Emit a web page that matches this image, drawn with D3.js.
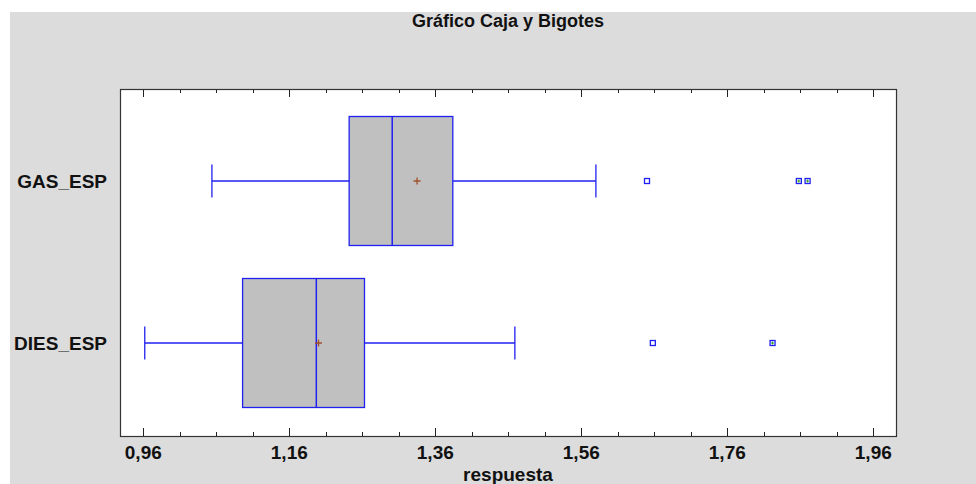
<!DOCTYPE html>
<html>
<head>
<meta charset="utf-8">
<script src="https://cdn.jsdelivr.net/npm/d3@7"></script>
<style>
  body { margin: 0; background: #fff; }
  svg text { font-family: "Liberation Sans", Arial, sans-serif; font-weight: bold; fill: #111; }
</style>
</head>
<body>
<div id="chart"></div>
<script>
// data
var groups = ['GAS_ESP', 'DIES_ESP'];
var whiskerLow = [1.054, 0.962];
var q1 = [1.242, 1.096];
var median = [1.301, 1.197];
var q3 = [1.384, 1.263];
var whiskerHigh = [1.580, 1.469];
var means = [1.335, 1.200];
var outliers = [[1.650], [1.658]];
var farOutliers = [[1.858, 1.870], [1.822]];
var majorTicks = [0.96, 1.16, 1.36, 1.56, 1.76, 1.96];
var minorStep = 0.05;

var width = 976,
	height = 484,
	plot = { left: 120, right: 896, top: 89, bottom: 436 };

var svg = d3.select('#chart').append('svg').attr('width', width).attr('height', height);

svg.append('rect')
	.attr('x', 10).attr('y', 12)
	.attr('width', width - 10).attr('height', height - 12)
	.style('fill', '#dcdcdc');

svg.append('rect')
	.attr('x', plot.left).attr('y', plot.top)
	.attr('width', plot.right - plot.left).attr('height', plot.bottom - plot.top)
	.style('fill', '#fff');

var x = d3.scaleLinear()
	.domain([0.96 - 23.3 / 730, 1.96 + 22.7 / 730])
	.range([plot.left, plot.right]);

var y = d3.scalePoint()
	.domain(groups)
	.range([181, 343]);

var boxH = 129, capH = 33;

var fmt = d3.formatLocale({ decimal: ',', thousands: '.', grouping: [3], currency: ['', ''] }).format('.2f');

var minorTicks = d3.range(0, 41).map(function (i) { return +(0.96 + i * minorStep).toFixed(2); })
	.filter(function (v) { return v <= x.domain()[1]; });

function isMajor(d) { return majorTicks.indexOf(d) >= 0; }

// bottom axis (ticks inside)
var bottomAxis = svg.append('g').attr('transform', 'translate(0,' + plot.bottom + ')');
bottomAxis.selectAll('line').data(minorTicks).enter().append('line')
	.attr('x1', function (d) { return Math.round(x(d)) + 0.5; })
	.attr('x2', function (d) { return Math.round(x(d)) + 0.5; })
	.attr('y1', 0)
	.attr('y2', function (d) { return isMajor(d) ? -8 : -4; })
	.style('stroke', '#222');
bottomAxis.selectAll('text').data(majorTicks).enter().append('text')
	.attr('x', function (d) { return x(d); })
	.attr('y', 23)
	.attr('text-anchor', 'middle')
	.style('font-size', '19px')
	.text(function (d) { return fmt(d); });

// top ticks
var topAxis = svg.append('g').attr('transform', 'translate(0,' + plot.top + ')');
topAxis.selectAll('line').data(minorTicks).enter().append('line')
	.attr('x1', function (d) { return Math.round(x(d)) + 0.5; })
	.attr('x2', function (d) { return Math.round(x(d)) + 0.5; })
	.attr('y1', 0)
	.attr('y2', function (d) { return isMajor(d) ? 8 : 4; })
	.style('stroke', '#222');

// frame
svg.append('rect')
	.attr('x', plot.left + 0.5).attr('y', plot.top + 0.5)
	.attr('width', plot.right - plot.left).attr('height', plot.bottom - plot.top)
	.style('fill', 'none').style('stroke', '#333').style('stroke-width', 1.2);

// boxes
var blue = '#2020f0';
var g = svg.selectAll('.box').data(groups).enter().append('g').attr('class', 'box');

g.each(function (name, i) {
	var el = d3.select(this), cy = y(name);
	el.append('line')
		.attr('x1', x(whiskerLow[i])).attr('x2', x(q1[i]))
		.attr('y1', cy).attr('y2', cy).style('stroke', blue).style('stroke-width', 1.3);
	el.append('line')
		.attr('x1', x(q3[i])).attr('x2', x(whiskerHigh[i]))
		.attr('y1', cy).attr('y2', cy).style('stroke', blue).style('stroke-width', 1.3);
	[whiskerLow[i], whiskerHigh[i]].forEach(function (v) {
		el.append('line')
			.attr('x1', x(v)).attr('x2', x(v))
			.attr('y1', cy - capH / 2).attr('y2', cy + capH / 2)
			.style('stroke', blue).style('stroke-width', 1.3);
	});
	el.append('rect')
		.attr('x', x(q1[i])).attr('y', cy - boxH / 2)
		.attr('width', x(q3[i]) - x(q1[i])).attr('height', boxH)
		.style('fill', '#c0c0c0').style('stroke', blue).style('stroke-width', 1.3);
	el.append('line')
		.attr('x1', x(median[i])).attr('x2', x(median[i]))
		.attr('y1', cy - boxH / 2).attr('y2', cy + boxH / 2)
		.style('stroke', blue).style('stroke-width', 1.5);
	// mean
	var mx = x(means[i]);
	el.append('path')
		.attr('d', 'M' + (mx - 3.5) + ',' + cy + 'H' + (mx + 3.5) + 'M' + mx + ',' + (cy - 3.5) + 'V' + (cy + 3.5))
		.style('stroke', '#a0522d').style('stroke-width', 1.3);
	outliers[i].forEach(function (v) {
		el.append('rect')
			.attr('x', x(v) - 2.5).attr('y', cy - 2.5).attr('width', 5).attr('height', 5)
			.style('fill', '#fff').style('stroke', blue).style('stroke-width', 1.3);
	});
	farOutliers[i].forEach(function (v) {
		var ox = x(v);
		el.append('rect')
			.attr('x', ox - 2.5).attr('y', cy - 2.5).attr('width', 5).attr('height', 5)
			.style('fill', '#fff').style('stroke', blue).style('stroke-width', 1.3);
		el.append('path')
			.attr('d', 'M' + (ox - 1.5) + ',' + cy + 'H' + (ox + 1.5) + 'M' + ox + ',' + (cy - 1.5) + 'V' + (cy + 1.5))
			.style('stroke', '#2a9a2a').style('stroke-width', 1);
	});
	el.append('text')
		.attr('x', 107).attr('y', cy + 7)
		.attr('text-anchor', 'end')
		.style('font-size', '19px')
		.text(name);
});

svg.append('text')
	.attr('x', 508).attr('y', 27)
	.attr('text-anchor', 'middle')
	.style('font-size', '18px')
	.text('Gráfico Caja y Bigotes');

svg.append('text')
	.attr('x', 508).attr('y', 481)
	.attr('text-anchor', 'middle')
	.style('font-size', '19px')
	.text('respuesta');
</script>
</body>
</html>
